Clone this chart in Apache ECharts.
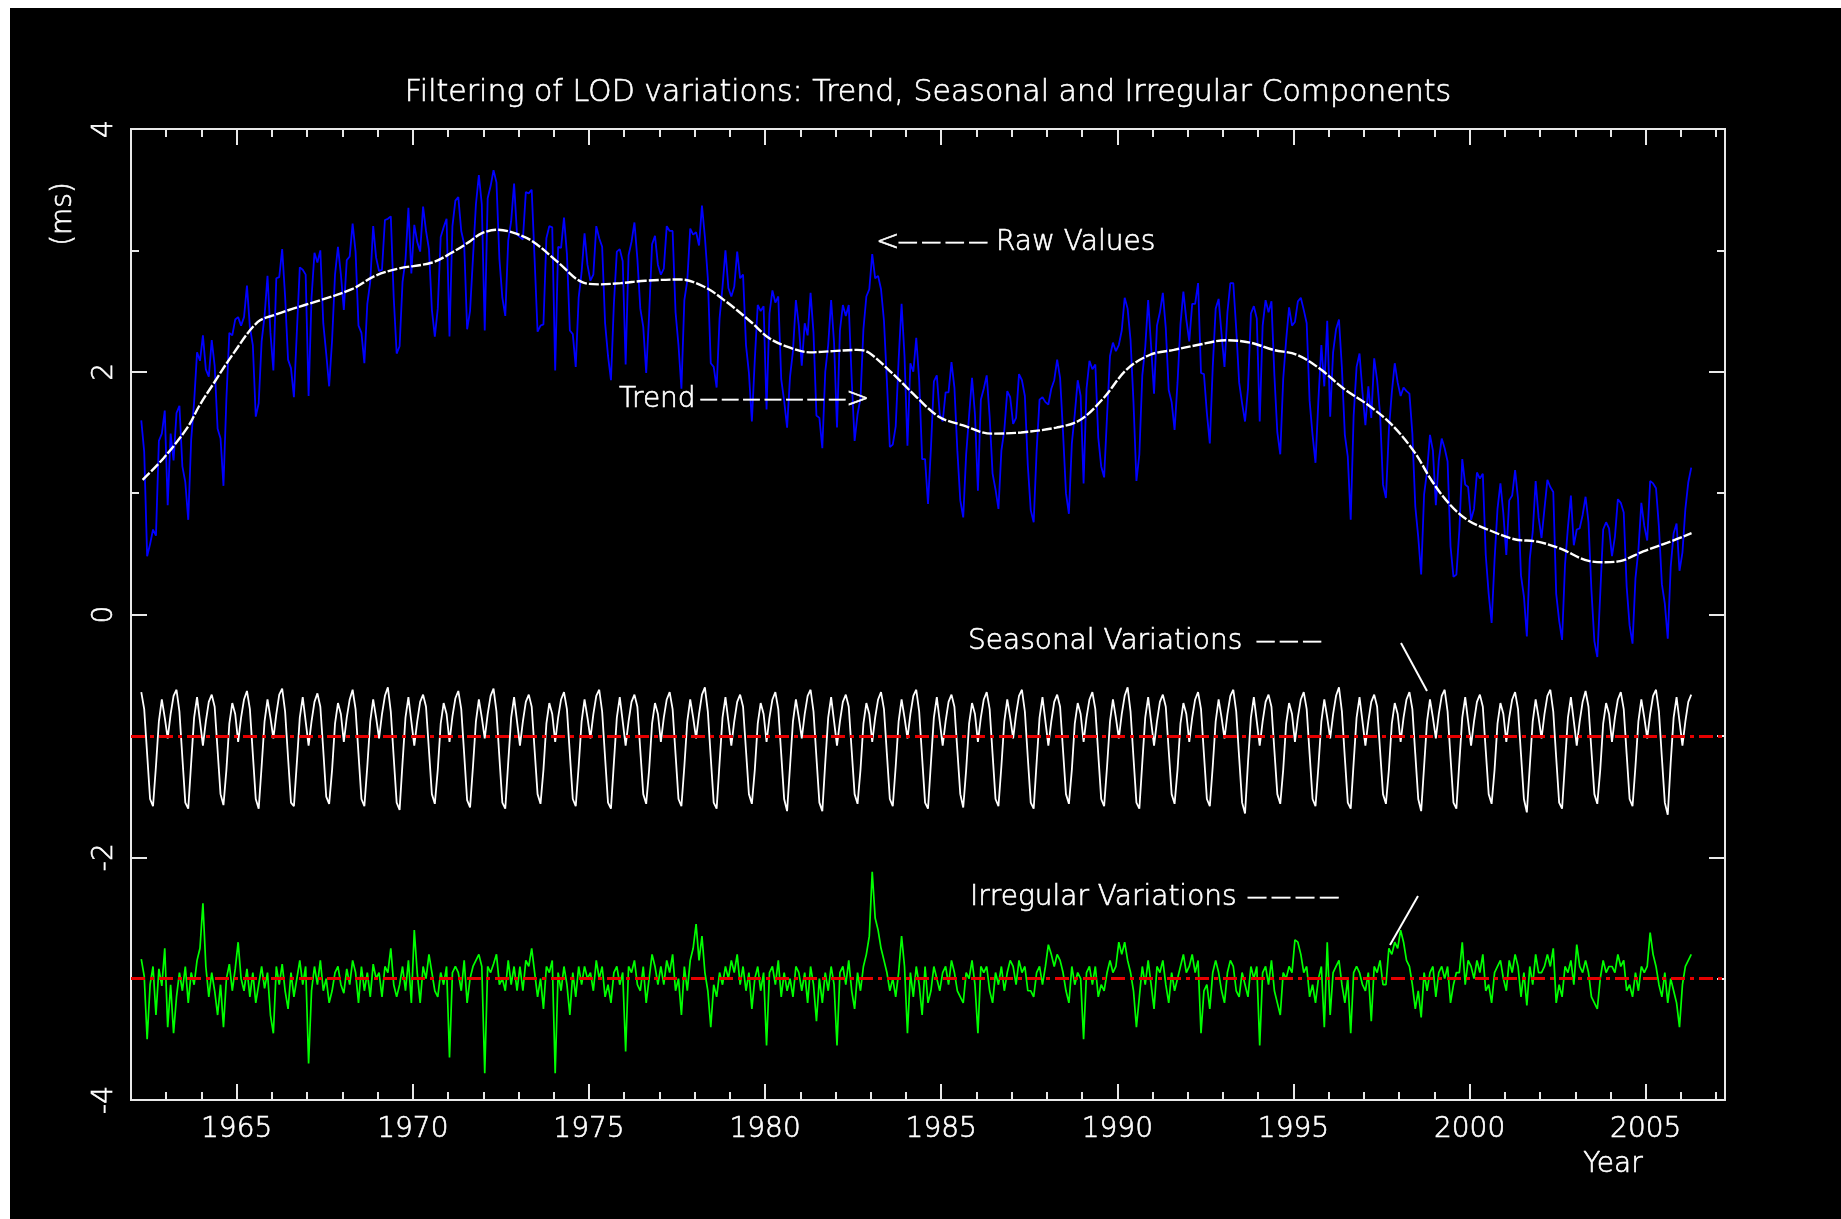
<!DOCTYPE html>
<html>
<head>
<meta charset="utf-8">
<title>Filtering of LOD variations</title>
<script src="https://cdn.jsdelivr.net/npm/echarts@6/dist/echarts.min.js"></script>
<style>
html,body{margin:0;padding:0;background:#ffffff;}
#chart{width:1841px;height:1219px;}
</style>
</head>
<body>
<div id="chart"></div>
<script>
// ---------------- DATA ----------------
// monthly samples, first one mid-April 1962, last one mid-April 2006
const startYear = 1962 + 3.5 / 12;
const monthStep = 1 / 12;

// Raw LOD values (ms)
const rawValues = [
  1.60,1.34,0.48,0.58,0.70,0.65,1.43,1.49,1.68,
  0.90,1.49,1.27,1.66,1.72,1.22,1.09,0.78,1.44,1.75,2.16,2.09,
  2.30,2.02,1.96,2.26,2.05,1.53,1.45,1.06,1.78,2.32,2.30,2.43,
  2.45,2.38,2.45,2.71,2.37,2.22,1.63,1.74,2.25,2.46,2.79,2.32,
  2.01,2.77,2.78,3.01,2.62,2.10,2.03,1.79,2.33,2.86,2.84,2.80,
  1.80,2.61,2.98,2.90,3.00,2.40,2.15,1.88,2.26,2.80,3.03,2.80,
  2.51,2.92,2.95,3.22,2.99,2.38,2.32,2.07,2.56,2.74,3.20,2.94,
  2.83,2.84,3.25,3.26,3.28,2.61,2.15,2.21,2.74,2.92,3.35,2.81,
  3.21,3.07,2.99,3.36,3.16,3.01,2.51,2.29,2.52,3.11,3.19,3.26,
  2.29,3.20,3.41,3.44,3.16,3.05,2.35,2.50,2.94,3.38,3.62,3.38,
  2.34,3.43,3.53,3.66,3.56,2.93,2.61,2.46,3.08,3.24,3.55,3.13,
  3.11,3.09,3.48,3.47,3.50,2.92,2.33,2.38,2.39,3.10,3.20,3.19,
  2.01,3.03,3.02,3.27,2.97,2.34,2.31,2.04,2.61,2.82,3.14,2.88,
  2.75,2.80,3.20,3.10,3.03,2.40,2.13,1.93,2.56,2.99,3.01,2.91,
  2.06,2.96,3.07,3.23,2.93,2.52,2.37,1.99,2.47,3.05,3.12,2.88,
  2.80,2.85,3.20,3.16,3.16,2.49,2.22,1.86,2.59,2.75,3.18,3.13,
  3.15,3.04,3.37,3.11,2.77,2.07,2.04,1.87,2.44,2.70,3.00,2.69,
  2.62,2.70,2.99,2.77,2.80,2.22,1.99,1.59,2.10,2.55,2.50,2.54,
  1.69,2.48,2.67,2.57,2.62,1.94,1.76,1.54,1.96,2.17,2.59,2.38,
  2.05,2.40,2.30,2.65,2.32,1.64,1.62,1.37,2.00,2.22,2.59,2.24,
  1.54,2.34,2.55,2.46,2.55,1.94,1.43,1.65,1.78,2.35,2.62,2.68,
  2.97,2.77,2.79,2.68,2.42,1.92,1.38,1.40,1.55,2.10,2.56,2.13,
  1.39,2.07,2.00,2.28,1.93,1.28,1.28,0.91,1.37,1.92,1.97,1.65,
  1.59,1.83,1.83,2.08,1.87,1.35,0.94,0.80,1.32,1.64,1.95,1.65,
  1.02,1.77,1.86,1.97,1.63,1.16,1.03,0.87,1.35,1.52,1.84,1.79,
  1.57,1.62,1.98,1.93,1.80,1.23,0.86,0.76,1.35,1.77,1.79,1.75,
  1.73,1.86,1.93,2.10,1.95,1.50,1.00,0.83,1.41,1.65,1.93,1.80,
  1.08,1.86,2.09,2.02,2.06,1.46,1.22,1.13,1.64,2.13,2.24,2.17,
  2.22,2.34,2.61,2.52,2.26,1.75,1.10,1.32,1.97,2.20,2.59,2.21,
  1.82,2.38,2.49,2.65,2.36,1.85,1.75,1.52,1.91,2.39,2.66,2.43,
  2.25,2.56,2.56,2.73,1.99,1.98,1.66,1.41,2.04,2.52,2.60,2.31,
  2.04,2.49,2.73,2.73,2.35,1.91,1.74,1.59,1.86,2.48,2.54,2.44,
  1.59,2.38,2.59,2.49,2.58,1.97,1.50,1.32,1.94,2.26,2.53,2.38,
  2.41,2.58,2.61,2.51,2.40,1.76,1.48,1.25,1.77,2.22,1.88,2.42,
  1.63,2.16,2.35,2.43,2.03,1.48,1.30,0.78,1.64,2.04,2.15,1.83,
  1.56,1.88,1.62,2.11,1.93,1.65,1.07,0.96,1.52,1.83,2.07,1.91,
  1.80,1.87,1.84,1.82,1.49,0.89,0.64,0.33,0.99,1.18,1.48,1.35,
  0.90,1.27,1.45,1.37,1.26,0.56,0.31,0.33,0.69,1.28,1.07,1.05,
  0.78,0.87,1.17,1.12,1.16,0.49,0.17,-0.07,0.45,0.87,1.08,0.83,
  0.49,0.94,0.98,1.19,0.95,0.32,0.15,-0.18,0.46,0.68,1.10,0.80,
  0.63,0.87,1.11,1.05,1.01,0.17,-0.05,-0.21,0.41,0.72,0.98,0.57,
  0.70,0.71,0.82,0.97,0.76,0.20,-0.22,-0.35,0.17,0.70,0.76,0.71,
  0.48,0.64,0.95,0.92,0.84,0.23,-0.09,-0.24,0.30,0.53,0.92,0.73,
  0.61,1.10,1.08,1.04,0.72,0.25,0.09,-0.20,0.39,0.67,0.75,0.36,
  0.51,0.87,1.09,1.21
];

// Seasonal component (plotted around -1 ms)
const seasonalValues = [
  -0.64,-0.78,-1.15,-1.52,-1.58,-1.25,-0.88,-0.70,-0.85,
  -1.02,-0.82,-0.67,-0.62,-0.80,-1.18,-1.55,-1.60,-1.22,-0.85,-0.68,-0.88,
  -1.08,-0.88,-0.72,-0.66,-0.76,-1.12,-1.48,-1.57,-1.28,-0.90,-0.73,-0.82,
  -1.05,-0.85,-0.70,-0.63,-0.78,-1.15,-1.52,-1.60,-1.25,-0.88,-0.70,-0.85,
  -1.02,-0.82,-0.66,-0.61,-0.80,-1.18,-1.55,-1.58,-1.22,-0.85,-0.68,-0.88,
  -1.08,-0.88,-0.72,-0.65,-0.76,-1.12,-1.50,-1.56,-1.28,-0.90,-0.73,-0.82,
  -1.05,-0.85,-0.70,-0.62,-0.78,-1.15,-1.52,-1.58,-1.25,-0.88,-0.70,-0.85,
  -1.02,-0.82,-0.67,-0.60,-0.80,-1.18,-1.55,-1.61,-1.22,-0.85,-0.68,-0.88,
  -1.08,-0.88,-0.72,-0.66,-0.76,-1.12,-1.48,-1.56,-1.28,-0.90,-0.73,-0.82,
  -1.05,-0.84,-0.69,-0.63,-0.78,-1.15,-1.53,-1.59,-1.25,-0.88,-0.70,-0.85,
  -1.02,-0.82,-0.67,-0.61,-0.80,-1.18,-1.55,-1.60,-1.22,-0.85,-0.68,-0.88,
  -1.08,-0.88,-0.72,-0.66,-0.76,-1.12,-1.48,-1.56,-1.28,-0.90,-0.73,-0.82,
  -1.05,-0.85,-0.70,-0.64,-0.78,-1.15,-1.52,-1.58,-1.25,-0.88,-0.70,-0.85,
  -1.02,-0.82,-0.67,-0.62,-0.80,-1.18,-1.55,-1.60,-1.22,-0.85,-0.68,-0.88,
  -1.08,-0.88,-0.72,-0.66,-0.76,-1.12,-1.48,-1.56,-1.28,-0.90,-0.73,-0.82,
  -1.05,-0.85,-0.70,-0.64,-0.78,-1.15,-1.52,-1.58,-1.25,-0.88,-0.70,-0.85,
  -1.02,-0.82,-0.66,-0.60,-0.80,-1.18,-1.55,-1.60,-1.22,-0.85,-0.68,-0.88,
  -1.08,-0.88,-0.72,-0.66,-0.76,-1.12,-1.48,-1.56,-1.28,-0.90,-0.73,-0.82,
  -1.05,-0.85,-0.70,-0.64,-0.78,-1.15,-1.52,-1.62,-1.25,-0.88,-0.70,-0.85,
  -1.02,-0.82,-0.67,-0.62,-0.80,-1.18,-1.55,-1.62,-1.22,-0.85,-0.68,-0.88,
  -1.08,-0.88,-0.72,-0.66,-0.76,-1.12,-1.48,-1.56,-1.28,-0.90,-0.73,-0.82,
  -1.05,-0.85,-0.70,-0.64,-0.78,-1.15,-1.52,-1.58,-1.25,-0.88,-0.70,-0.85,
  -1.02,-0.82,-0.67,-0.62,-0.80,-1.18,-1.55,-1.60,-1.22,-0.85,-0.68,-0.88,
  -1.08,-0.88,-0.72,-0.66,-0.76,-1.12,-1.48,-1.59,-1.28,-0.90,-0.73,-0.82,
  -1.05,-0.85,-0.70,-0.64,-0.78,-1.15,-1.52,-1.58,-1.25,-0.88,-0.70,-0.85,
  -1.02,-0.82,-0.67,-0.62,-0.80,-1.18,-1.55,-1.60,-1.22,-0.85,-0.68,-0.88,
  -1.08,-0.88,-0.72,-0.66,-0.76,-1.12,-1.48,-1.56,-1.28,-0.90,-0.73,-0.82,
  -1.05,-0.85,-0.70,-0.64,-0.78,-1.15,-1.52,-1.58,-1.25,-0.88,-0.70,-0.85,
  -1.02,-0.82,-0.67,-0.60,-0.80,-1.18,-1.55,-1.60,-1.22,-0.85,-0.68,-0.88,
  -1.08,-0.88,-0.72,-0.66,-0.76,-1.12,-1.48,-1.56,-1.28,-0.90,-0.73,-0.82,
  -1.05,-0.85,-0.70,-0.64,-0.78,-1.15,-1.52,-1.58,-1.25,-0.88,-0.70,-0.85,
  -1.02,-0.82,-0.67,-0.62,-0.80,-1.18,-1.55,-1.64,-1.22,-0.85,-0.68,-0.88,
  -1.08,-0.88,-0.72,-0.66,-0.76,-1.12,-1.48,-1.56,-1.28,-0.90,-0.73,-0.82,
  -1.05,-0.85,-0.70,-0.64,-0.78,-1.15,-1.52,-1.58,-1.25,-0.88,-0.70,-0.85,
  -1.02,-0.82,-0.67,-0.60,-0.80,-1.18,-1.55,-1.60,-1.22,-0.85,-0.68,-0.88,
  -1.08,-0.88,-0.72,-0.66,-0.76,-1.12,-1.48,-1.56,-1.28,-0.90,-0.73,-0.82,
  -1.05,-0.85,-0.70,-0.64,-0.78,-1.15,-1.52,-1.62,-1.25,-0.88,-0.70,-0.85,
  -1.02,-0.82,-0.67,-0.62,-0.80,-1.18,-1.55,-1.60,-1.22,-0.85,-0.68,-0.88,
  -1.08,-0.88,-0.72,-0.66,-0.76,-1.12,-1.48,-1.56,-1.28,-0.90,-0.73,-0.82,
  -1.05,-0.85,-0.70,-0.64,-0.78,-1.15,-1.52,-1.63,-1.25,-0.88,-0.70,-0.85,
  -1.02,-0.82,-0.67,-0.62,-0.80,-1.18,-1.55,-1.60,-1.22,-0.85,-0.68,-0.88,
  -1.08,-0.88,-0.72,-0.63,-0.76,-1.12,-1.48,-1.56,-1.28,-0.90,-0.73,-0.82,
  -1.05,-0.85,-0.70,-0.64,-0.78,-1.15,-1.52,-1.58,-1.25,-0.88,-0.70,-0.85,
  -1.02,-0.82,-0.67,-0.62,-0.80,-1.18,-1.55,-1.65,-1.22,-0.85,-0.68,-0.88,
  -1.08,-0.88,-0.72,-0.66
];

// Irregular component (plotted around -3 ms)
const irregularValues = [
  -2.84,-2.98,-3.50,-3.05,-2.90,-3.30,-2.92,-3.06,-2.75,
  -3.40,-3.05,-3.45,-3.15,-2.95,-3.10,-2.90,-3.20,-2.95,-3.05,-2.85,-2.75,
  -2.38,-2.90,-3.15,-2.95,-3.10,-3.30,-3.05,-3.40,-3.00,-2.88,-3.10,-2.92,
  -2.70,-3.00,-3.10,-2.92,-3.15,-2.95,-3.20,-3.05,-2.90,-3.08,-2.95,-3.30,
  -3.45,-2.90,-3.05,-2.88,-3.10,-3.25,-2.95,-3.15,-3.00,-2.85,-3.05,-2.90,
  -3.70,-3.10,-2.90,-3.05,-2.85,-3.10,-3.00,-3.20,-3.10,-2.95,-2.90,-3.05,
  -3.12,-2.92,-3.05,-2.85,-2.95,-3.20,-2.90,-3.10,-2.95,-3.15,-2.88,-3.00,
  -2.95,-3.15,-2.90,-2.95,-2.75,-3.05,-3.15,-3.05,-2.90,-3.10,-2.85,-3.20,
  -2.60,-2.95,-3.20,-2.90,-3.00,-2.80,-2.95,-3.10,-3.15,-2.95,-3.05,-2.90,
  -3.65,-2.95,-2.90,-2.95,-3.10,-2.85,-3.20,-3.00,-2.90,-2.85,-2.80,-2.90,
  -3.78,-2.90,-2.95,-2.88,-2.80,-3.05,-3.00,-3.10,-2.85,-3.05,-2.90,-3.10,
  -2.90,-3.10,-2.85,-2.90,-2.75,-2.95,-3.15,-3.00,-3.25,-2.90,-2.95,-2.85,
  -3.78,-2.95,-3.10,-2.90,-3.05,-3.30,-2.95,-3.15,-2.90,-3.05,-2.90,-3.00,
  -2.95,-3.10,-2.85,-3.00,-2.90,-3.15,-3.05,-3.20,-2.95,-2.90,-3.05,-2.95,
  -3.60,-2.90,-2.95,-2.85,-3.05,-3.10,-2.90,-3.20,-3.00,-2.80,-2.90,-3.05,
  -2.90,-3.05,-2.85,-2.95,-2.80,-3.10,-3.00,-3.30,-2.90,-3.10,-2.85,-2.75,
  -2.55,-2.85,-2.65,-2.95,-3.10,-3.40,-3.05,-3.15,-2.95,-3.05,-2.90,-3.00,
  -2.85,-2.95,-2.80,-3.05,-2.90,-3.10,-2.95,-3.25,-3.00,-2.90,-3.10,-2.95,
  -3.55,-2.95,-2.90,-3.05,-2.85,-3.15,-2.95,-3.10,-3.00,-3.15,-2.90,-2.95,
  -3.10,-2.95,-3.20,-2.90,-3.05,-3.35,-3.00,-3.20,-2.95,-3.10,-2.90,-3.05,
  -3.55,-2.95,-2.90,-3.05,-2.85,-3.10,-3.25,-2.95,-3.10,-2.90,-2.80,-2.65,
  -2.12,-2.50,-2.60,-2.75,-2.85,-2.95,-3.10,-3.00,-3.15,-2.95,-2.65,-2.90,
  -3.45,-2.95,-3.15,-2.90,-3.05,-3.30,-2.90,-3.20,-3.10,-2.90,-3.00,-3.10,
  -2.95,-2.90,-3.05,-2.85,-2.95,-3.10,-3.15,-3.20,-2.95,-3.00,-2.85,-3.05,
  -3.45,-2.90,-2.95,-2.90,-3.10,-3.20,-2.95,-3.05,-2.90,-3.10,-2.95,-2.85,
  -2.90,-3.05,-2.85,-2.95,-2.90,-3.10,-3.10,-3.15,-2.95,-2.90,-3.05,-2.90,
  -2.72,-2.80,-2.90,-2.80,-2.85,-2.95,-3.10,-3.20,-2.90,-3.05,-2.95,-3.00,
  -3.50,-2.95,-2.90,-3.05,-2.90,-3.15,-3.05,-3.10,-2.95,-2.85,-2.95,-2.90,
  -2.70,-2.80,-2.70,-2.85,-2.95,-3.10,-3.40,-3.15,-2.90,-3.05,-2.85,-3.05,
  -3.25,-2.90,-2.95,-2.85,-3.05,-3.20,-2.95,-3.10,-3.00,-2.90,-2.80,-2.95,
  -2.90,-2.80,-2.95,-2.85,-3.45,-3.10,-3.05,-3.25,-2.95,-2.85,-2.95,-3.10,
  -3.20,-2.95,-2.85,-2.90,-3.10,-3.15,-2.95,-3.05,-3.15,-2.90,-3.00,-2.90,
  -3.55,-2.95,-2.90,-3.05,-2.85,-3.10,-3.20,-3.30,-2.95,-3.00,-2.90,-2.95,
  -2.68,-2.70,-2.80,-2.95,-2.90,-3.15,-3.05,-3.20,-3.00,-2.90,-3.40,-2.70,
  -3.30,-2.95,-2.90,-2.85,-3.05,-3.20,-3.00,-3.45,-2.95,-2.90,-2.95,-3.05,
  -3.10,-2.95,-3.35,-2.90,-2.95,-2.85,-3.05,-3.05,-2.75,-2.80,-2.70,-2.75,
  -2.60,-2.70,-2.85,-2.90,-3.05,-3.25,-3.10,-3.32,-2.95,-3.10,-2.95,-2.90,
  -3.15,-2.95,-2.90,-3.00,-2.90,-3.20,-3.05,-2.95,-2.95,-2.70,-3.05,-2.85,
  -2.90,-3.00,-2.85,-2.95,-2.80,-3.10,-3.05,-3.20,-2.95,-2.90,-2.85,-3.00,
  -3.10,-2.85,-2.95,-2.80,-2.90,-3.15,-2.95,-3.22,-2.90,-3.05,-2.80,-2.95,
  -2.95,-2.90,-2.80,-2.90,-2.75,-3.20,-3.05,-3.15,-2.90,-2.95,-2.85,-3.05,
  -2.72,-2.90,-2.95,-2.85,-2.95,-3.15,-3.20,-3.25,-3.00,-2.85,-2.95,-2.90,
  -2.90,-2.95,-2.80,-2.90,-2.85,-3.10,-3.05,-3.15,-2.95,-3.10,-2.90,-2.95,
  -2.90,-2.62,-2.80,-2.90,-3.05,-3.15,-2.95,-3.20,-3.00,-3.10,-3.20,-3.40,
  -3.05,-2.90,-2.85,-2.80
];

// Smoothed trend (ms)
const trendYears = [1962.33,1962.93,1963.60,1963.94,1964.27,1964.93,1965.60,1966.10,1966.60,1967.27,
  1968.27,1968.93,1969.60,1970.55,1971.10,1971.60,1971.95,1972.40,1972.80,1973.37,
  1974.13,1974.79,1975.30,1975.90,1976.60,1977.60,1978.27,1978.93,1979.60,1980.10,
  1980.60,1981.27,1981.93,1982.60,1982.93,1983.60,1984.27,1984.93,1985.60,1986.43,
  1987.27,1988.27,1988.93,1989.60,1990.27,1990.93,1991.60,1992.27,1993.10,1993.77,
  1994.43,1995.10,1995.77,1996.43,1997.10,1997.77,1998.43,1998.93,1999.43,1999.93,
  2000.60,2001.27,2001.93,2002.60,2003.27,2003.77,2004.27,2004.93,2005.60,2006.30];
const trendValues = [1.11,1.29,1.54,1.72,1.87,2.16,2.41,2.47,2.52,2.58,
  2.68,2.79,2.85,2.90,2.98,3.07,3.14,3.17,3.15,3.08,
  2.90,2.74,2.72,2.73,2.75,2.76,2.70,2.57,2.41,2.28,
  2.21,2.16,2.17,2.18,2.16,1.99,1.80,1.63,1.56,1.49,
  1.50,1.54,1.60,1.78,2.02,2.14,2.18,2.22,2.26,2.24,
  2.18,2.14,2.02,1.86,1.73,1.57,1.34,1.10,0.91,0.78,
  0.69,0.62,0.60,0.54,0.45,0.43,0.44,0.52,0.59,0.67];

// reference levels of the seasonal and irregular panels
const baseLevels = [-1, -3];

// axes
const xRange = [1962, 2007.25];
const yRange = [-4, 4];
const xMajorTicks = [1965,1970,1975,1980,1985,1990,1995,2000,2005];
const xMinorTicks = [1963,1964,1966,1967,1968,1969,1971,1972,1973,1974,1976,1977,1978,1979,
  1981,1982,1983,1984,1986,1987,1988,1989,1991,1992,1993,1994,1996,1997,1998,1999,
  2001,2002,2003,2004,2006,2007];
const yMajorTicks = [-4,-2,0,2,4];
const yMinorTicks = [-3,-1,1,3];

// ---------------- CHART ----------------
const sampleYears = rawValues.map((_, i) => startYear + i * monthStep);
const pairs = (vals) => vals.map((v, i) => [sampleYears[i], v]);
const trendPairs = trendYears.map((y, i) => [y, trendValues[i]]);

const axisColor = '#e8e8e8';
const textColor = '#ffffff';
const fontFamily = "'DejaVu Sans', 'Liberation Sans', sans-serif";
const fontWeight = 200;

function xAx(position, ticks, len, withLabels) {
  return {
    type: 'value', position: position, min: xRange[0], max: xRange[1],
    axisLine: { show: true, onZero: false, lineStyle: { color: axisColor, width: 2 } },
    axisTick: { show: true, inside: true, length: len, customValues: ticks, lineStyle: { color: axisColor, width: 2 } },
    axisLabel: withLabels ? {
      show: true, customValues: xMajorTicks, formatter: (v) => String(v),
      color: textColor, fontFamily: fontFamily, fontWeight: fontWeight, fontSize: 28, margin: 16,
      textBorderColor: textColor, textBorderWidth: 0.6
    } : { show: false },
    splitLine: { show: false }
  };
}
function yAx(position, ticks, len, withLabels) {
  return {
    type: 'value', position: position, min: yRange[0], max: yRange[1],
    axisLine: { show: true, onZero: false, lineStyle: { color: axisColor, width: 2 } },
    axisTick: { show: true, inside: true, length: len, customValues: ticks, lineStyle: { color: axisColor, width: 2 } },
    axisLabel: withLabels ? {
      show: true, customValues: yMajorTicks, formatter: (v) => String(v), rotate: 90,
      color: textColor, fontFamily: fontFamily, fontWeight: fontWeight, fontSize: 28, margin: 12,
      textBorderColor: textColor, textBorderWidth: 0.6
    } : { show: false },
    splitLine: { show: false }
  };
}

function txt(text, x, y, opts) {
  opts = opts || {};
  return {
    type: 'text', x: x, y: y, z: 100, silent: true,
    rotation: opts.rotation || 0, scaleX: opts.scaleX || 1,
    style: {
      text: text, fill: textColor, fontSize: opts.fontSize || 28, fontFamily: fontFamily, fontWeight: fontWeight,
      stroke: textColor, lineWidth: 0.6,
      align: opts.align || 'left', verticalAlign: 'middle',
      textAlign: opts.align || 'left', textVerticalAlign: 'middle'
    }
  };
}

const redLine = { color: '#e60000', width: 2.8, type: [14, 5, 4, 5] };

const chart = echarts.init(document.getElementById('chart'), null, { renderer: 'canvas' });
chart.setOption({
  animation: false,
  backgroundColor: '#000000',
  grid: { left: 131, top: 129, width: 1594, height: 971, containLabel: false },
  xAxis: [
    xAx('bottom', xMajorTicks, 16, true),
    xAx('bottom', xMinorTicks, 8, false),
    xAx('top', xMajorTicks, 16, false),
    xAx('top', xMinorTicks, 8, false)
  ],
  yAxis: [
    yAx('left', yMajorTicks, 16, true),
    yAx('left', yMinorTicks, 8, false),
    yAx('right', yMajorTicks, 16, false),
    yAx('right', yMinorTicks, 8, false)
  ],
  series: [
    {
      name: 'Raw Values', type: 'line', xAxisIndex: 0, yAxisIndex: 0,
      data: pairs(rawValues), showSymbol: false, symbol: 'none',
      lineStyle: { color: '#0000ff', width: 1.8 }, z: 2
    },
    {
      name: 'Trend', type: 'line', xAxisIndex: 0, yAxisIndex: 0,
      data: trendPairs, smooth: 0.35, showSymbol: false, symbol: 'none',
      lineStyle: { color: '#ffffff', width: 2.4, type: [10, 2] }, z: 3
    },
    {
      name: 'Seasonal Variations', type: 'line', xAxisIndex: 0, yAxisIndex: 0,
      data: pairs(seasonalValues), showSymbol: false, symbol: 'none',
      lineStyle: { color: '#ffffff', width: 1.8 }, z: 2,
      markLine: { silent: true, symbol: 'none', label: { show: false }, lineStyle: redLine, data: [{ yAxis: baseLevels[0] }] }
    },
    {
      name: 'Irregular Variations', type: 'line', xAxisIndex: 0, yAxisIndex: 0,
      data: pairs(irregularValues), showSymbol: false, symbol: 'none',
      lineStyle: { color: '#00ff00', width: 1.7 }, z: 2,
      markLine: { silent: true, symbol: 'none', label: { show: false }, lineStyle: redLine, data: [{ yAxis: baseLevels[1] }] }
    }
  ],
  graphic: [
    { type: 'rect', z: 100, silent: true, shape: { x: 0, y: 0, width: 1841, height: 8 }, style: { fill: '#ffffff' } },
    { type: 'rect', z: 100, silent: true, shape: { x: 0, y: 0, width: 10, height: 1219 }, style: { fill: '#ffffff' } },
    txt('Filtering of LOD variations: Trend, Seasonal and Irregular Components', 928, 93, { align: 'center', fontSize: 30 }),
    txt('(ms)', 64, 214, { align: 'center', rotation: Math.PI / 2 }),
    txt('Year', 1613, 1165, { align: 'center' }),
    // Raw values annotation
    txt('<', 876, 243),
    txt('----', 896, 243, { scaleX: 2.33 }),
    txt('Raw Values', 996, 243),
    // Trend annotation
    txt('Trend', 619, 400),
    txt('-------', 698, 400, { scaleX: 2.12 }),
    txt('>', 846, 400),
    // Seasonal annotation
    txt('Seasonal Variations', 968, 642),
    txt('---', 1254, 642, { scaleX: 2.3 }),
    { type: 'line', z: 100, silent: true, shape: { x1: 1401, y1: 643, x2: 1427, y2: 691 }, style: { stroke: '#ffffff', lineWidth: 2 } },
    // Irregular annotation
    txt('Irregular Variations', 970, 898),
    txt('----', 1245, 898, { scaleX: 2.38 }),
    { type: 'line', z: 100, silent: true, shape: { x1: 1418, y1: 896, x2: 1390, y2: 945 }, style: { stroke: '#ffffff', lineWidth: 2 } }
  ]
});
</script>
</body>
</html>
